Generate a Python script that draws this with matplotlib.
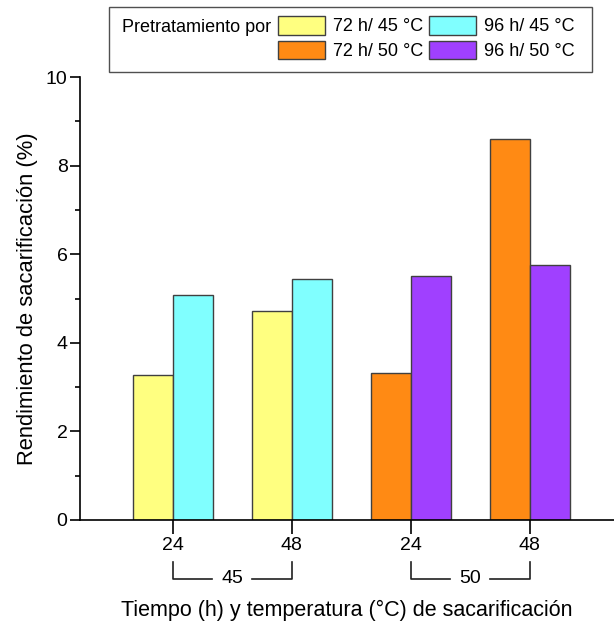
import numpy as np
import matplotlib.pyplot as plt
import matplotlib.transforms as mtransforms
from matplotlib.patches import Rectangle
from matplotlib.ticker import MultipleLocator

plt.rcParams['font.family'] = ['Liberation Sans', 'DejaVu Sans']

# data
hours = ['24', '48', '24', '48']
temps = ['45', '50']
val_72h = [3.27, 4.72, 3.31, 8.60]
val_96h = [5.07, 5.43, 5.51, 5.76]
labels = ['72 h/ 45 °C', '96 h/ 45 °C', '72 h/ 50 °C', '96 h/ 50 °C']
colors = ['#FFFF80', '#80FFFF', '#FF8A14', '#A040FF']

fig = plt.figure(figsize=(6.14, 6.24), dpi=100)
ax = fig.add_axes([80/614, 104/624, 534/614, 443/624])

x = np.arange(len(hours))
w = 0.336
ec = '#404040'

# first two groups are 45 C, the last two 50 C
b1 = ax.bar(x[:2] - w/2, val_72h[:2], w, color=colors[0], edgecolor=ec, lw=1, label=labels[0])
b2 = ax.bar(x[:2] + w/2, val_96h[:2], w, color=colors[1], edgecolor=ec, lw=1, label=labels[1])
b3 = ax.bar(x[2:] - w/2, val_72h[2:], w, color=colors[2], edgecolor=ec, lw=1, label=labels[2])
b4 = ax.bar(x[2:] + w/2, val_96h[2:], w, color=colors[3], edgecolor=ec, lw=1, label=labels[3])

ax.set_xlim(-0.78, 3.71)
ax.set_ylim(0, 10)
ax.set_xticks(x)
ax.set_xticklabels(hours)
ax.yaxis.set_major_locator(MultipleLocator(2))
ax.yaxis.set_minor_locator(MultipleLocator(1))
ax.tick_params(axis='x', direction='out', length=10, width=1.2, labelsize=14, pad=2)
ax.tick_params(axis='y', which='major', direction='out', length=7, width=1.2, labelsize=14, pad=2)
ax.tick_params(axis='y', which='minor', direction='out', length=3.6, width=1.2)
for s in ['top', 'right']:
    ax.spines[s].set_visible(False)
for s in ['left', 'bottom']:
    ax.spines[s].set_linewidth(1.2)

ax.set_ylabel('Rendimiento de sacarificación (%)', fontsize=15.8)
ax.yaxis.set_label_coords(-0.078, 0.5)
ax.set_xlabel('Tiempo (h) y temperatura (°C) de sacarificación', fontsize=15.5)
ax.xaxis.set_label_coords(0.5, -0.181)

# temperature brackets under the hour ticks
trans = mtransforms.blended_transform_factory(ax.transData, ax.transAxes)
y_top, y_bot = -0.095, -0.133
for i, t in enumerate(temps):
    xl, xr = x[2*i], x[2*i + 1]
    mid = (xl + xr) / 2
    gap = 0.17
    ax.plot([xl, xl, mid - gap], [y_top, y_bot, y_bot], color='#202020', lw=1.2,
            transform=trans, clip_on=False)
    ax.plot([mid + gap, xr, xr], [y_bot, y_bot, y_top], color='#202020', lw=1.2,
            transform=trans, clip_on=False)
    ax.text(mid, y_bot, t, transform=trans, ha='center', va='center', fontsize=14)

# legend box with title text on the left
fig.patches.append(Rectangle((109/614, 1 - 72/624), 483/614, 65/624, transform=fig.transFigure,
                             fill=False, edgecolor='#505050', lw=1))
fig.text(122/614, 1 - 28/624, 'Pretratamiento por', fontsize=13, va='center', ha='left')
fig.legend(handles=[b1, b3, b2, b4], labels=[labels[0], labels[2], labels[1], labels[3]],
           ncol=2, loc='upper left', bbox_to_anchor=(278/614, 1 - 16/624), frameon=False,
           fontsize=13, handlelength=2.6, handleheight=1.22, handletextpad=0.44,
           columnspacing=0.33, labelspacing=0.28, borderpad=0, borderaxespad=0)

fig.savefig('out.png', dpi=100)
